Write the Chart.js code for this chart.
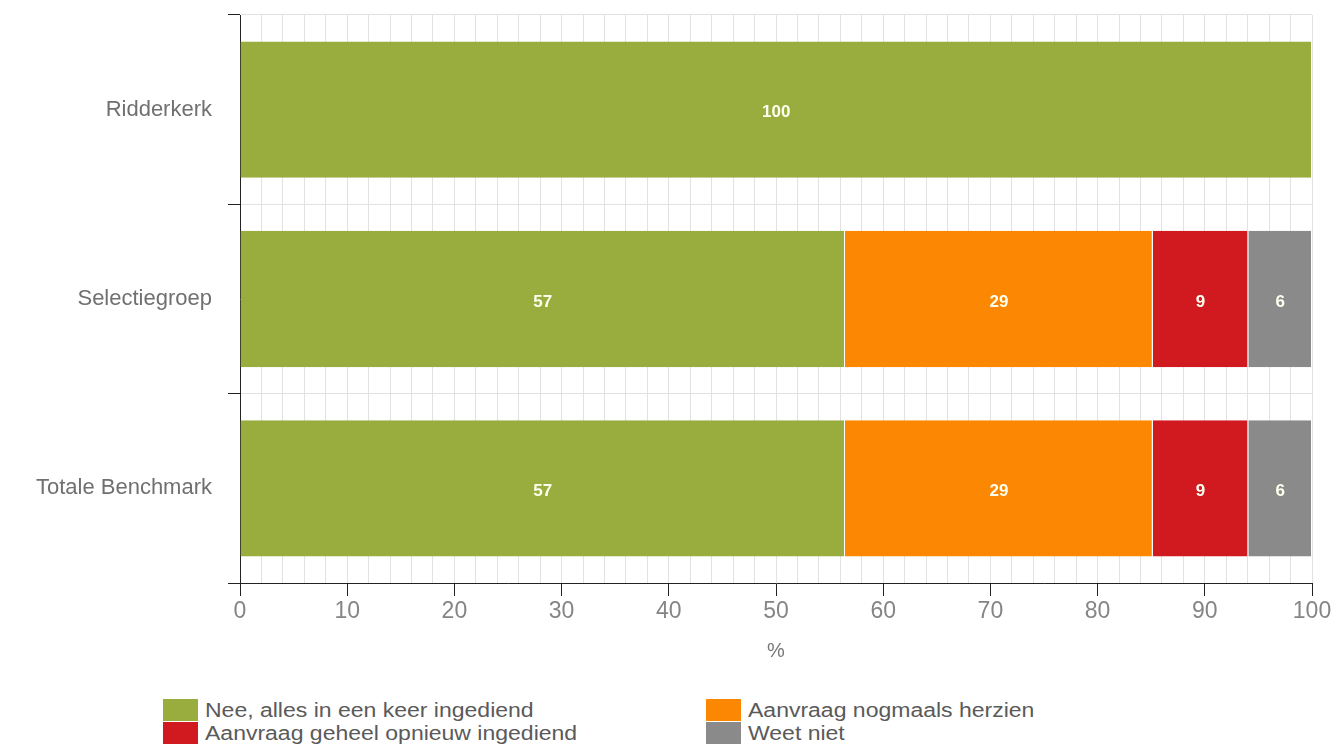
<!DOCTYPE html>
<html>
<head>
<meta charset="utf-8">
<script src="https://cdn.jsdelivr.net/npm/chart.js@4.4.1/dist/chart.umd.min.js"></script>
<style>
  html, body { margin: 0; padding: 0; background: #fff; }
  #wrap { position: relative; width: 1337px; height: 756px; }
  #chart { position: absolute; left: 0; top: 0; }
  .legend { position: absolute; top: 699px; font-family: "Liberation Sans", Arial, sans-serif; font-size: 20px; color: #5a5a5a; }
  .legend .item { height: 23px; line-height: 22px; white-space: nowrap; }
  .legend .box { display: inline-block; width: 35px; height: 22px; vertical-align: top; margin-right: 7px; }
  .legend .txt { display: inline-block; transform: scaleX(1.15); transform-origin: left center; }
</style>
</head>
<body>
<div id="wrap">
  <canvas id="chart" width="1337" height="690"></canvas>
  <div class="legend" id="leg1" style="left:163px"></div>
  <div class="legend" id="leg2" style="left:706px"></div>
</div>
<script>
// categorieen en antwoorden (zoals in de labels)
const categories = ['Ridderkerk', 'Selectiegroep', 'Totale Benchmark'];
const nee = [100, 57, 57];
const herzien = [0, 29, 29];
const opnieuw = [0, 9, 9];
const weetNiet = [0, 6, 6];
const xTicks = [0, 10, 20, 30, 40, 50, 60, 70, 80, 90, 100];

const seriesNames = ['Nee, alles in een keer ingediend', 'Aanvraag nogmaals herzien', 'Aanvraag geheel opnieuw ingediend', 'Weet niet'];
const seriesColors = ['#98ad3d', '#fb8702', '#d11a20', '#8a8a8a'];
const series = [nee, herzien, opnieuw, weetNiet];

// totalen per rij, balk loopt tot 100%
const totals = categories.map((c, i) => series.reduce((s, arr) => s + arr[i], 0));

const valueLabels = {
    id: 'valueLabels',
    afterDatasetsDraw(chart) {
        const ctx = chart.ctx;
        ctx.save();
        ctx.font = 'bold 17px "Liberation Sans", Arial, sans-serif';
        ctx.fillStyle = '#fffff0';
        ctx.textAlign = 'center';
        ctx.textBaseline = 'middle';
        chart.data.datasets.forEach((ds, di) => {
            chart.getDatasetMeta(di).data.forEach((el, i) => {
                const raw = series[di][i];
                if (!raw) return;
                const p = el.getCenterPoint();
                ctx.fillText(String(raw), p.x, p.y + 3);
            });
        });
        ctx.restore();
    }
};

new Chart(document.getElementById('chart'), {
    type: 'bar',
    data: {
        labels: categories,
        datasets: series.map((arr, k) => ({
            label: seriesNames[k],
            data: arr.map((v, i) => v / totals[i] * 100),
            backgroundColor: seriesColors[k],
            borderColor: '#ffffff',
            borderWidth: { left: 0, right: 1, top: 0, bottom: 0 },
            borderSkipped: false,
            barPercentage: 0.72,
            categoryPercentage: 1
        }))
    },
    plugins: [valueLabels],
    options: {
        indexAxis: 'y',
        responsive: false,
        animation: false,
        layout: { padding: { top: 15, right: 25, bottom: 24, left: 0 } },
        plugins: { legend: { display: false }, tooltip: { enabled: false } },
        scales: {
            x: {
                stacked: true,
                min: 0,
                max: 100,
                afterFit(scale) {
                    scale.height = 83;
                    scale.paddingLeft = 0;
                    scale.paddingRight = 0;
                },
                ticks: {
                    stepSize: 2,
                    autoSkip: false,
                    maxRotation: 0,
                    padding: 2,
                    color: '#858585',
                    font: { family: '"Liberation Sans", Arial, sans-serif', size: 23 },
                    callback: v => xTicks.includes(v) ? String(v) : ''
                },
                grid: {
                    color: '#e2e2e2',
                    tickLength: 13,
                    tickColor: c => (c.tick && xTicks.includes(c.tick.value)) ? '#222' : 'rgba(0,0,0,0)'
                },
                border: { color: '#222', width: 1 },
                title: {
                    display: true,
                    text: '%',
                    color: '#777',
                    padding: { top: 4, bottom: 3 },
                    font: { family: '"Liberation Sans", Arial, sans-serif', size: 20 }
                }
            },
            y: {
                stacked: true,
                afterFit(scale) {
                    scale.width = 240;
                    scale.paddingTop = 0;
                    scale.paddingBottom = 0;
                },
                ticks: {
                    padding: 16,
                    color: '#707070',
                    font: { family: '"Liberation Sans", Arial, sans-serif', size: 22 }
                },
                grid: {
                    color: '#e2e2e2',
                    tickLength: 12,
                    tickColor: '#222'
                },
                border: { color: '#222', width: 1 }
            }
        }
    }
});

// legenda in twee kolommen
const cols = [[0, 2], [1, 3]];
cols.forEach((idx, c) => {
    const el = document.getElementById('leg' + (c + 1));
    el.innerHTML = idx.map(k =>
        `<div class="item"><span class="box" style="background:${seriesColors[k]}"></span><span class="txt">${seriesNames[k]}</span></div>`
    ).join('');
});
</script>
</body>
</html>
